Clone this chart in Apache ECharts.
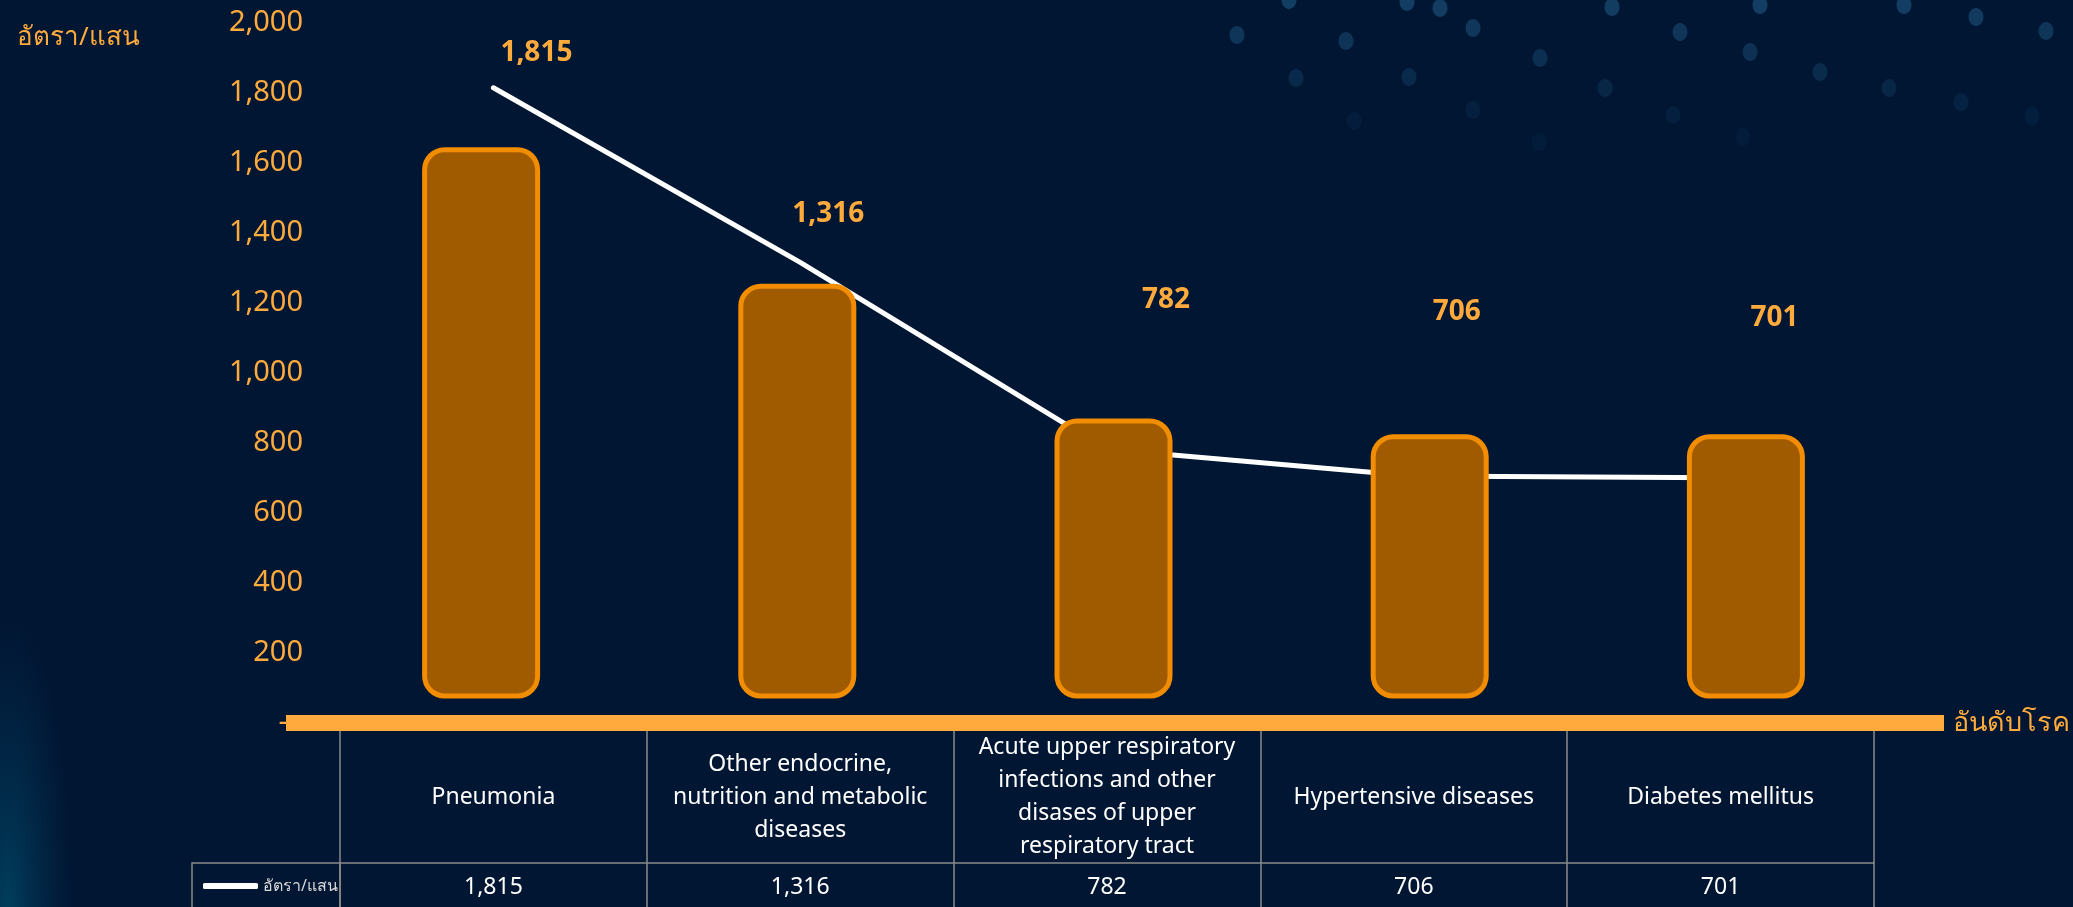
<!DOCTYPE html>
<html>
<head>
<meta charset="utf-8">
<script src="https://cdn.jsdelivr.net/npm/echarts@6/dist/echarts.min.js"></script>
<style>
  html, body { margin: 0; padding: 0; background: #011633; }
  #chart { width: 2073px; height: 907px; }
</style>
</head>
<body>
<div id="chart"></div>
<script>
// ---- data ----
const categories = [
  'Pneumonia',
  'Other endocrine,\nnutrition and metabolic\ndiseases',
  'Acute upper respiratory\ninfections and other\ndisases of upper\nrespiratory tract',
  'Hypertensive diseases',
  'Diabetes mellitus'
];
const rates = [1815, 1316, 782, 706, 701];          // line series: อัตรา/แสน
const barTops = [1645, 1255, 870, 825, 825];         // decorative bar tops (axis units)
const barBase = [70, 70, 70, 70, 70];                // bars float above zero
const yTicks = { min: 0, max: 2000, interval: 200 };
const seriesName = 'อัตรา/แสน';
const yAxisTitle = 'อัตรา/แสน';
const xAxisTitle = 'อันดับโรค';

// ---- styles ----
const ORANGE = '#FFAA3C';
const FONT = "'Noto Sans', 'DejaVu Sans', sans-serif";
const labelShift = [[43, -15], [28, -29], [59, -130], [43, -144], [54, -140]];
const fmt = v => v.toLocaleString('en-US');

// background dots (decoration)
const dots = [
  [1289,0],[1407,2],[1612,7],[1904,5],[1976,17],[2046,31],[1237,35],[1346,41],[1473,28],
  [1680,32],[1750,52],[1540,58],[1820,72],[1296,78],[1409,77],[1605,88],[1889,88],[1961,102],
  [2032,116],[1473,110],[1673,115],[1354,121],[1743,137],[1539,142],[1760,5],[1440,8]
];
const dotGraphics = dots.map(d => ({
  type: 'ellipse', silent: true, z: -10,
  shape: { cx: d[0], cy: d[1], rx: 7.5, ry: 9 },
  style: { fill: '#1a4c74', opacity: Math.max(0.12, 0.75 - d[1] / 200) }
}));

const hiddenCat = (gridIndex) => ({
  type: 'category', gridIndex, data: categories,
  axisLine: { show: false }, axisTick: { show: false }, axisLabel: { show: false }, splitLine: { show: false }
});

const chart = echarts.init(document.getElementById('chart'), null, { renderer: 'canvas' });
chart.setOption({
  backgroundColor: '#011633',
  animation: false,
  textStyle: { fontFamily: FONT },
  title: {
    text: yAxisTitle, left: 12, top: 20,
    textStyle: { color: ORANGE, fontSize: 26, fontWeight: 'normal', fontFamily: FONT }
  },
  legend: {
    left: 198, top: 873, itemWidth: 55, itemHeight: 6, itemGap: 3,
    icon: 'roundRect',
    data: [{ name: seriesName, itemStyle: { color: '#ffffff' } }],
    textStyle: { color: '#d9d9d9', fontSize: 16, fontFamily: FONT }
  },
  grid: [
    { left: 340, right: 190, top: 23, bottom: 184, containLabel: false },   // table + line
    { left: 323, right: 169, top: 23, bottom: 184, containLabel: false }    // decorative bars
  ],
  xAxis: [
    {
      type: 'category', gridIndex: 0, data: categories, position: 'bottom',
      name: xAxisTitle, nameLocation: 'end', nameGap: 79,
      nameTextStyle: { color: ORANGE, fontSize: 27, fontFamily: FONT, verticalAlign: 'middle' },
      axisLine: { show: false },
      axisTick: { show: true, length: 190, lineStyle: { color: '#8a8a8a', width: 1.5 } },
      axisLabel: {
        interval: 0, color: '#ffffff', fontSize: 23, lineHeight: 33,
        margin: 74, verticalAlign: 'middle', align: 'center', fontFamily: FONT
      },
      splitLine: { show: false }
    },
    {
      type: 'category', gridIndex: 0, data: rates.map(fmt), position: 'bottom', offset: 140,
      axisLine: { show: true, lineStyle: { color: '#8a8a8a', width: 1.5 } },
      axisTick: { show: false },
      axisLabel: { interval: 0, color: '#ffffff', fontSize: 23, margin: 24, verticalAlign: 'middle', fontFamily: FONT },
      splitLine: { show: false }
    },
    hiddenCat(1)
  ],
  yAxis: [
    {
      type: 'value', gridIndex: 0, min: yTicks.min, max: yTicks.max, interval: yTicks.interval,
      axisLine: { show: false }, axisTick: { show: false }, splitLine: { show: false },
      axisLabel: {
        color: ORANGE, fontSize: 29, margin: 37, fontFamily: FONT,
        formatter: v => v === 0 ? '-  ' : fmt(v)
      }
    },
    {
      type: 'value', gridIndex: 1, min: yTicks.min, max: yTicks.max, interval: yTicks.interval,
      axisLine: { show: false }, axisTick: { show: false }, splitLine: { show: false }, axisLabel: { show: false }
    }
  ],
  series: [
    {
      name: 'base', type: 'bar', stack: 'bar', xAxisIndex: 2, yAxisIndex: 1,
      data: barBase, barWidth: 118,
      itemStyle: { color: 'transparent' }, silent: true, z: 3
    },
    {
      name: 'bars', type: 'bar', stack: 'bar', xAxisIndex: 2, yAxisIndex: 1,
      data: barTops.map((t, i) => t - barBase[i]), barWidth: 118,
      itemStyle: { color: '#A05B00', borderColor: '#F28C00', borderWidth: 5, borderRadius: 20 },
      z: 3
    },
    {
      name: seriesName, type: 'line', xAxisIndex: 0, yAxisIndex: 0,
      data: rates,
      symbol: 'circle', symbolSize: 1, showSymbol: true, z: 2,
      lineStyle: { color: '#ffffff', width: 5, cap: 'round' },
      itemStyle: { color: 'rgba(255,255,255,0)' },
      label: {
        show: true, position: 'top', color: ORANGE, fontSize: 28, fontWeight: 'bold',
        fontFamily: FONT, formatter: p => fmt(p.value)
      },
      labelLayout: (p) => ({
        dx: labelShift[p.dataIndex][0], dy: labelShift[p.dataIndex][1], hideOverlap: false
      })
    }
  ],
  graphic: [
    {
      type: 'circle', silent: true, z: -20,
      x: 8, y: 907, scaleX: 1, scaleY: 4.5,
      shape: { cx: 0, cy: 0, r: 65 },
      style: {
        fill: new echarts.graphic.RadialGradient(0.5, 0.5, 0.5, [
          { offset: 0, color: 'rgba(0,90,120,0.6)' },
          { offset: 0.5, color: 'rgba(0,70,105,0.35)' },
          { offset: 1, color: 'rgba(0,60,95,0)' }
        ])
      }
    },
    ...dotGraphics,
    {
      type: 'rect', silent: true, z: 10,
      shape: { x: 286, y: 715, width: 1658, height: 16 },
      style: { fill: ORANGE }
    },
    {
      type: 'rect', silent: true, z: 10,
      shape: { x: 192, y: 863, width: 148, height: 60 },
      style: { fill: 'none', stroke: '#8a8a8a', lineWidth: 1.5 }
    }
  ]
});
</script>
</body>
</html>
